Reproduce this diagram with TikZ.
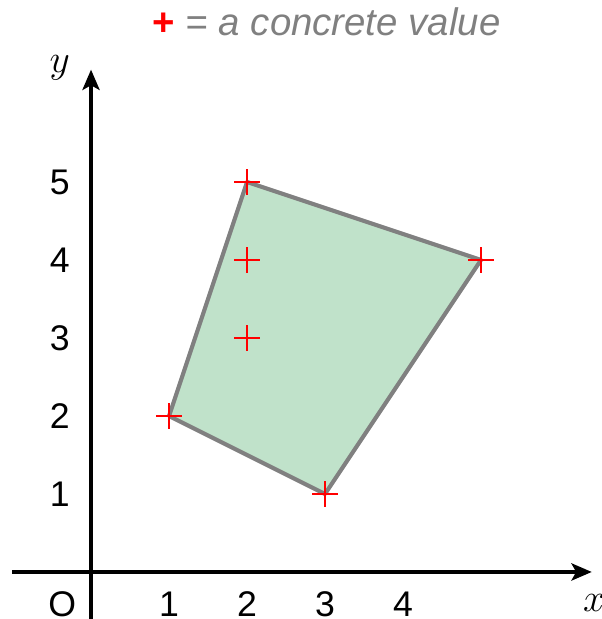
\documentclass[tikz,border=0pt]{standalone}
\usepackage{fontspec}
\setmainfont{Liberation Sans}
\usepackage{xcolor}
\usepackage{tikz}
\usetikzlibrary{
  arrows.meta,
  positioning,
  shapes.misc
}
\definecolor{regiongreen}{RGB}{192,226,202}
\definecolor{edgegray}{RGB}{128,128,128}

\begin{document}
\begin{tikzpicture}[
  axis/.style={line width=1.3pt, draw=black,
               -{Stealth[length=2.6mm, width=2.2mm, inset=0.6mm]}},
  region/.style={fill=regiongreen, draw=edgegray, line width=1.5pt, line join=round},
  val/.style={draw=red, cross out, rotate=45, line width=0.8pt,
              minimum size=0.2cm, inner sep=0pt},
  num/.style={font=\fontsize{13}{15}\selectfont, inner sep=0pt},
  lbl/.style={font=\fontsize{14}{16}\selectfont, inner sep=0pt}
]
\useasboundingbox (-1.167,-0.603) rectangle (6.551,7.333);

% legend
\node[font=\fontsize{14}{16}\selectfont\itshape, text=edgegray] (legend) at (3.02,7.05)
  {\textcolor{red}{\upshape\bfseries+} = a concrete value};

% axes
\coordinate (xstart) at (-1.01,0);
\coordinate (xend) at (6.42,0);
\coordinate (ystart) at (0,-0.62);
\coordinate (yend) at (0,6.44);
\draw[axis] (xstart) -- (xend);
\draw[axis] (ystart) -- (yend);
\node[lbl] (xlabel) at (6.45,-0.4) {$x$};
\node[lbl] (ylabel) at (-0.4,6.46) {$y$};
\node[num] (origin) at (-0.37,-0.41) {O};

% tick labels
\foreach \i in {1,...,4}{
  \node[num] (tx\i) at (\i,-0.41) {\i};
}
\foreach \i in {1,...,5}{
  \node[num] (ty\i) at (-0.4,\i) {\i};
}

% region with its vertices
\coordinate (p1) at (1,2);
\coordinate (p2) at (3,1);
\coordinate (p3) at (5,4);
\coordinate (p4) at (2,5);
\filldraw[region] (p1) -- (p2) -- (p3) -- (p4) -- cycle;

% concrete values
\foreach \n/\p in {v1/{1,2}, v2/{3,1}, v3/{5,4}, v4/{2,5}, v5/{2,4}, v6/{2,3}}{
  \node[val] (\n) at (\p) {};
}
\end{tikzpicture}
\end{document}
